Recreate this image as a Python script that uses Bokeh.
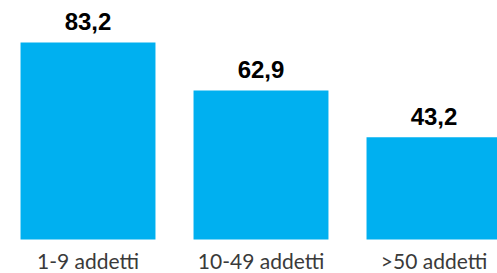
from bokeh.plotting import figure
from bokeh.models import ColumnDataSource, Range1d
from bokeh.core.properties import value
from bokeh.embed import file_html
from bokeh.resources import INLINE

categories = ["1-9 addetti", "10-49 addetti", ">50 addetti"]
values = [83.2, 62.9, 43.2]
value_labels = [f"{v:.1f}".replace(".", ",") for v in values]

xs = list(range(len(categories)))
src = ColumnDataSource(dict(x=xs, top=values, label=value_labels,
                            cat=categories, zero=[0] * len(xs)))

p = figure(width=497, height=273, output_backend="svg", toolbar_location=None,
           x_range=Range1d(-0.5058, 2.3671), y_range=Range1d(-14.36, 100.93),
           x_axis_location=None, y_axis_location=None,
           min_border_left=0, min_border_right=0,
           min_border_top=0, min_border_bottom=0)
p.outline_line_color = None
p.xgrid.visible = False
p.ygrid.visible = False
p.background_fill_color = "white"
p.border_fill_color = "white"

p.vbar(x="x", top="top", bottom=0, width=0.78, source=src,
       fill_color="#00B0F0", line_color=None)

# value labels above bars
p.text(x="x", y="top", text="label", source=src, text_align="center",
       text_baseline="alphabetic", y_offset=-21,
       text_font=value("Liberation Sans"), text_font_style="bold",
       text_font_size="24px", text_color="#000000")

# category labels below bars
p.text(x="x", y="zero", text="cat", source=src, text_align="center",
       text_baseline="alphabetic", y_offset=21,
       text_font=value("Lato"), text_font_size="21px", text_color="#3a3a3a")

open("out.html", "w").write(file_html(p, INLINE))
